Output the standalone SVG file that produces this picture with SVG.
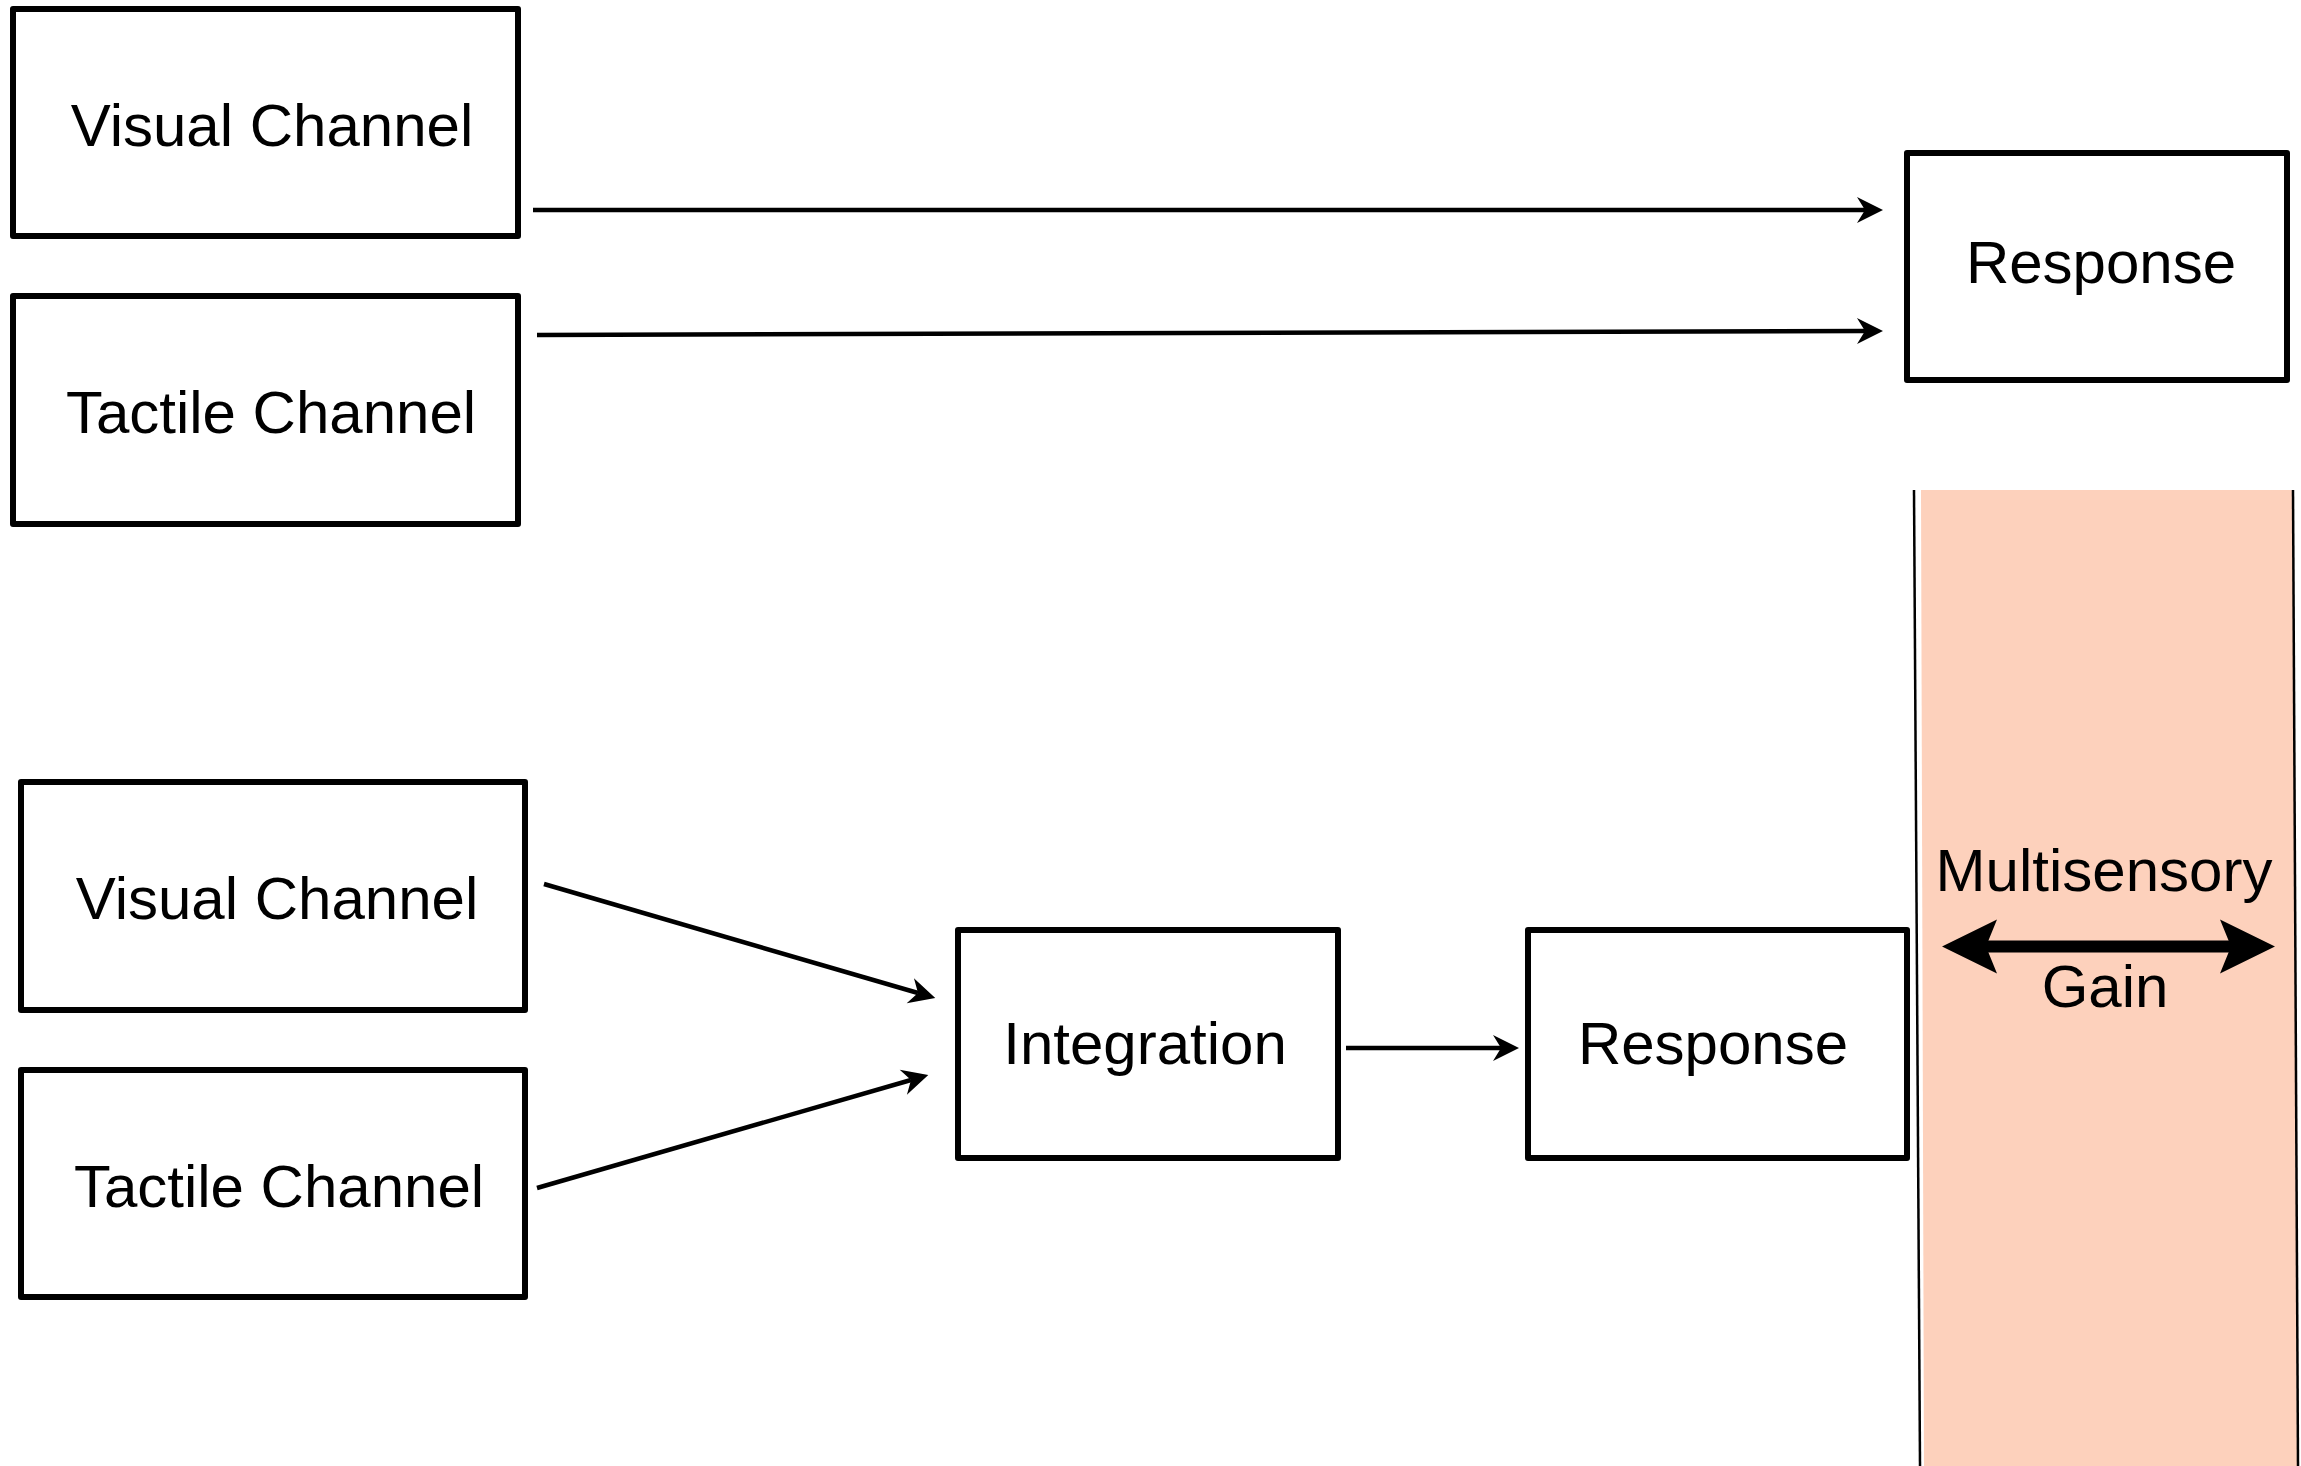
<svg xmlns="http://www.w3.org/2000/svg" width="2301" height="1466" viewBox="0 0 2301 1466">
<style>
.box{fill:#fff;stroke:#000;stroke-width:6;stroke-linejoin:round}
.lbl{font-family:"Liberation Sans",Arial,sans-serif;font-size:60px;fill:#000;text-anchor:middle}
.conn{fill:none;stroke:#000;stroke-width:4.5}
.band-line{fill:none;stroke:#000;stroke-width:2.5}
</style>
<defs>
<marker id="arr" markerUnits="userSpaceOnUse" markerWidth="30" markerHeight="30" viewBox="-10 -15 30 30" refX="0" refY="0" orient="auto">
<path d="M-8,-13 L18,0 L-8,13 L0,0 Z" fill="#000"/>
</marker>
<marker id="big" markerUnits="userSpaceOnUse" markerWidth="62" markerHeight="62" viewBox="-14 -31 62 62" refX="0" refY="0" orient="auto-start-reverse">
<path d="M-11,-27 L44,0 L-11,27 L0,0 Z" fill="#000"/>
</marker>
</defs>
<g id="gain-band">
<polygon points="1921,490 2293,490 2297,1466 1924,1466" fill="#FDD1BC"/>
<line class="band-line" x1="1914" y1="490" x2="1920" y2="1466"/>
<line class="band-line" x1="2293" y1="490" x2="2298" y2="1466"/>
</g>
<g id="top-visual"><rect class="box" x="13" y="9" width="505" height="227"/><text class="lbl" x="272" y="146">Visual Channel</text></g>
<g id="top-tactile"><rect class="box" x="13" y="296" width="505" height="228"/><text class="lbl" x="271" y="433">Tactile Channel</text></g>
<g id="top-response"><rect class="box" x="1907" y="153" width="380" height="227"/><text class="lbl" x="2101" y="283">Response</text></g>
<g id="bottom-visual"><rect class="box" x="21" y="782" width="504" height="228"/><text class="lbl" x="277" y="919">Visual Channel</text></g>
<g id="bottom-tactile"><rect class="box" x="21" y="1070" width="504" height="227"/><text class="lbl" x="279" y="1207">Tactile Channel</text></g>
<g id="integration"><rect class="box" x="958" y="930" width="380" height="228"/><text class="lbl" x="1145" y="1064">Integration</text></g>
<g id="bottom-response"><rect class="box" x="1528" y="930" width="379" height="228"/><text class="lbl" x="1713" y="1064">Response</text></g>
<g id="connectors">
<line class="conn" x1="533" y1="210" x2="1865" y2="210" marker-end="url(#arr)"/>
<line class="conn" x1="537" y1="335" x2="1865" y2="331" marker-end="url(#arr)"/>
<line class="conn" x1="544" y1="884" x2="918" y2="993" marker-end="url(#arr)"/>
<line class="conn" x1="537" y1="1188" x2="911" y2="1080" marker-end="url(#arr)"/>
<line class="conn" x1="1346" y1="1048" x2="1501" y2="1048" marker-end="url(#arr)"/>
</g>
<g id="gain-arrow">
<line x1="1986" y1="946.5" x2="2231" y2="946.5" stroke="#000" stroke-width="12" marker-start="url(#big)" marker-end="url(#big)"/>
<text class="lbl" x="2104" y="891">Multisensory</text>
<text class="lbl" x="2105" y="1007">Gain</text>
</g>
</svg>
